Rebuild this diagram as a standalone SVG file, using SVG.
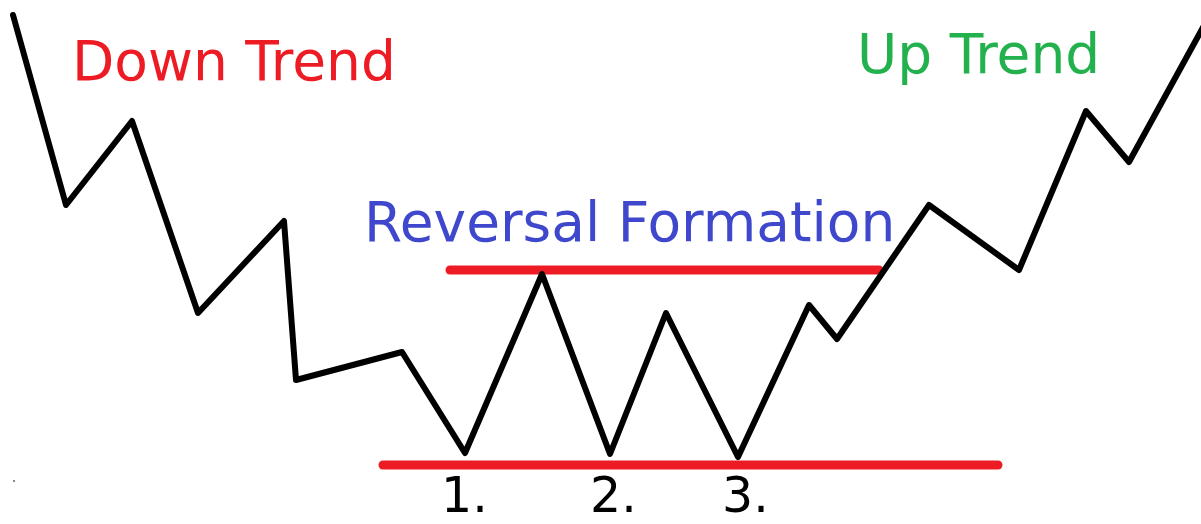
<svg xmlns="http://www.w3.org/2000/svg" width="1201" height="524" viewBox="0 0 1201 524">
  <style>
    .lbl { font-family: "DejaVu Sans", Verdana, sans-serif; font-size: 55px; }
    .num { font-family: "DejaVu Sans", Verdana, sans-serif; font-size: 49px; fill: #000; }
    .level { stroke: #ed1c24; stroke-width: 9; stroke-linecap: round; fill: none; }
    .price { stroke: #000; stroke-width: 6; stroke-linejoin: round; stroke-linecap: round; fill: none; }
  </style>
  <rect width="1201" height="524" fill="#fff"/>
  <rect x="13" y="480" width="2" height="2" fill="#888"/>
  <g id="connectors">
    <line id="resistance" class="level" x1="450" y1="270" x2="879" y2="270"/>
    <line id="support" class="level" x1="383" y1="465" x2="998" y2="465"/>
    <polyline id="price-path" class="price" points="13,15 66,205 132,121 198,313 284,221 296,380 402,352 465,453 542,274 610,454 666,313 738,457 809,305 837,339 929,205 1019,270 1086,111 1129,162 1206,22"/>
  </g>
  <g id="label-down">
    <text class="lbl" x="72" y="80" fill="#ed1c24">Down Trend</text>
  </g>
  <g id="label-up">
    <text class="lbl" x="857" y="73" fill="#22b14c">Up Trend</text>
  </g>
  <g id="label-reversal">
    <text class="lbl" x="364" y="241" fill="#3f48cc">Reversal Formation</text>
  </g>
  <g id="num-1"><text class="num" x="441" y="512">1.</text></g>
  <g id="num-2"><text class="num" x="590" y="512">2.</text></g>
  <g id="num-3"><text class="num" x="722" y="512">3.</text></g>
</svg>
